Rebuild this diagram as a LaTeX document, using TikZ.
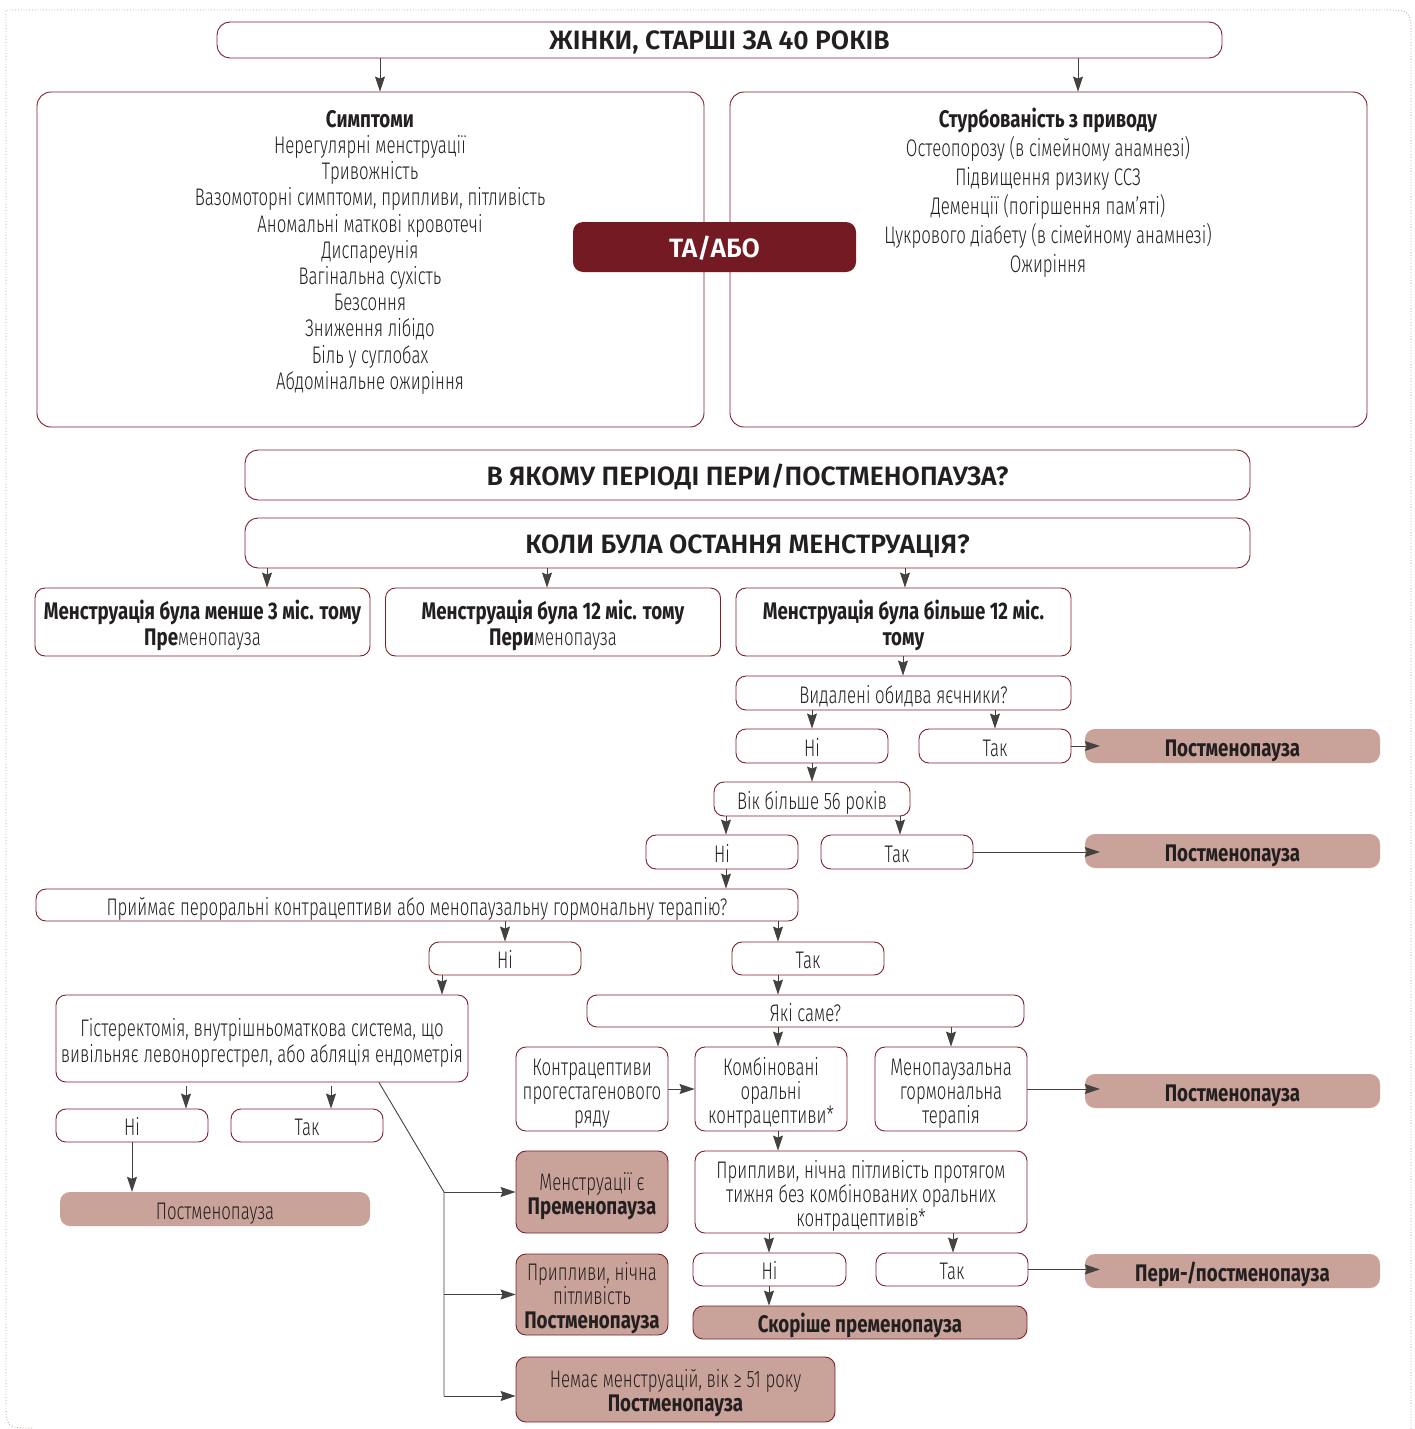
\documentclass[tikz,border=0pt]{standalone}
\usepackage{fontspec}
\setmainfont{Fira Sans Light}[FakeStretch=0.70,BoldFont={Fira Sans Bold},BoldFeatures={FakeStretch=0.78}]
\newfontfamily\headfont{Fira Sans SemiBold}[FakeStretch=1.0]
\usetikzlibrary{arrows.meta}
\definecolor{bordo}{HTML}{7D1F28}
\definecolor{rosy}{HTML}{C9A39A}
\definecolor{wine}{HTML}{731A22}
\definecolor{framec}{HTML}{CF9595}
\definecolor{ink}{HTML}{231F20}
\newcommand\topline{\rule{0pt}{26pt}}
\tikzset{
  box/.style={draw=bordo, line width=0.9pt, rounded corners=10pt, align=center, inner sep=0pt, text=ink, font=\fontsize{24}{24}\selectfont},
  oneline/.style={text height=20pt, text depth=0pt},
  bigbox/.style={box, rounded corners=14pt},
  headbox/.style={box, oneline, rounded corners=13pt, font=\headfont\fontsize{26.5}{30}\selectfont},
  boldbox/.style={box, font=\bfseries\fontsize{24}{26}\selectfont},
  result/.style={fill=rosy, oneline, rounded corners=10pt, align=center, inner sep=0pt, text=ink, font=\bfseries\fontsize{24}{26}\selectfont},
  resultbox/.style={box, fill=rosy},
  arr/.style={-{Stealth[length=15pt,width=10pt,inset=2pt]}, line width=0.9pt, draw=ink!85},
  into/.style={arr, shorten >=-15pt},
  link/.style={line width=0.9pt, draw=ink!85},
}
\begin{document}
\begin{tikzpicture}[x=1pt, y=-1pt]
\useasboundingbox (0,0) rectangle (1415,1429);
\draw[framec, dotted, line width=0.8pt] (1411,1429) -- (1411,38) .. controls (1411,10) .. (1383,10) -- (6,10) -- (6,1400) .. controls (6,1428) .. (34,1428);

% top part
\node (women) [headbox, minimum width=1005, minimum height=36] at (719.5,40) {ЖІНКИ, СТАРШІ ЗА 40 РОКІВ};
\node (symp) [bigbox, minimum width=667, minimum height=335] at (370.5,259.5) {};
\node (symptxt) [anchor=north, align=center, inner sep=0pt, text=ink, font=\fontsize{24}{26.2}\selectfont] at (370,110) {\textbf{Симптоми}\\
  Нерегулярні менструації\\
  Тривожність\\
  Вазомоторні симптоми, припливи, пітливість\\
  Аномальні маткові кровотечі\\
  Диспареунія\\
  Вагінальна сухість\\
  Безсоння\\
  Зниження лібідо\\
  Біль у суглобах\\
  Абдомінальне ожиріння};
\node (risk) [bigbox, minimum width=637, minimum height=335] at (1048.5,259.5) {};
\node (risktxt) [anchor=north, align=center, inner sep=0pt, text=ink, font=\fontsize{24}{29}\selectfont] at (1048,108) {\textbf{Стурбованість з приводу}\\
  Остеопорозу (в сімейному анамнезі)\\
  Підвищення ризику ССЗ\\
  Деменції (погіршення пам’яті)\\
  Цукрового діабету (в сімейному анамнезі)\\
  Ожиріння};
\node (andor) [fill=wine, oneline, rounded corners=10pt, minimum width=283, minimum height=50, text=white, font=\headfont\fontsize{26.5}{30}\selectfont] at (714.5,247) {ТА/АБО};
\draw[arr] (380,0 |- women.south) -- (380,0 |- symp.north);
\draw[arr] (1078,0 |- women.south) -- (1078,0 |- risk.north);

% periods
\node (period) [headbox, minimum width=1005, minimum height=50] at (747.5,475) {В ЯКОМУ ПЕРІОДІ ПЕРИ/ПОСТМЕНОПАУЗА?};
\node (last) [headbox, minimum width=1005, minimum height=50] at (747.5,543) {КОЛИ БУЛА ОСТАННЯ МЕНСТРУАЦІЯ?};
\node (less3) [boldbox, minimum width=335, minimum height=68] at (202.5,622) {\topline Менструація була менше 3 міс. тому\\\textbf{Пре}{\mdseries менопауза}};
\node (is12) [boldbox, minimum width=335, minimum height=68] at (553,622) {\topline Менструація була 12 міс. тому\\\textbf{Пери}{\mdseries менопауза}};
\node (over12) [boldbox, minimum width=335, minimum height=68] at (903.5,622) {\topline Менструація була більше 12 міс.\\тому};
\draw[arr] (267,0 |- last.south) -- (267,0 |- less3.north);
\draw[arr] (547,0 |- last.south) -- (547,0 |- is12.north);
\draw[arr] (905,0 |- last.south) -- (905,0 |- over12.north);

% ovaries and age
\node (ovar) [box, oneline, minimum width=335, minimum height=34] at (903.5,693) {Видалені обидва яєчники?};
\node (no1) [box, oneline, minimum width=152, minimum height=34] at (812,746) {Ні};
\node (yes1) [box, oneline, minimum width=152, minimum height=34] at (995,746) {Так};
\node (post1) [result, minimum width=295, minimum height=34] at (1232.5,746) {Постменопауза};
\node (age) [box, oneline, minimum width=196, minimum height=34] at (812,799) {Вік більше 56 років};
\node (no2) [box, oneline, minimum width=152, minimum height=34] at (722,852) {Ні};
\node (yes2) [box, oneline, minimum width=152, minimum height=34] at (897,852) {Так};
\node (post2) [result, minimum width=295, minimum height=34] at (1232.5,851) {Постменопауза};
\draw[arr] (903,0 |- over12.south) -- (903,0 |- ovar.north);
\draw[arr] (812,0 |- ovar.south) -- (812,0 |- no1.north);
\draw[arr] (995,0 |- ovar.south) -- (995,0 |- yes1.north);
\draw[into] (yes1) -- (post1);
\draw[arr] (812,0 |- no1.south) -- (812,0 |- age.north);
\draw[arr] (726,0 |- age.south) -- (726,0 |- no2.north);
\draw[arr] (900,0 |- age.south) -- (900,0 |- yes2.north);
\draw[into] (yes2.east) -- (post2.west |- yes2.east);

% contraceptives
\node (oc) [box, oneline, minimum width=762, minimum height=32] at (417,905) {Приймає пероральні контрацептиви або менопаузальну гормональну терапію?};
\node (no3) [box, oneline, minimum width=152, minimum height=33] at (505,958.5) {Ні};
\node (yes3) [box, oneline, minimum width=152, minimum height=33] at (808,958.5) {Так};
\draw[arr] (726,0 |- no2.south) -- (726,0 |- oc.north);
\draw[arr] (505,0 |- oc.south) -- (505,0 |- no3.north);
\draw[arr] (778,0 |- oc.south) -- (778,0 |- yes3.north);

% left branch
\node (hyst) [box, minimum width=412, minimum height=87, font=\fontsize{24}{26}\selectfont] at (262,1038.5) {\topline Гістеректомія, внутрішньоматкова система, що\\вивільняє левоноргестрел, або абляція ендометрія};
\node (no4) [box, oneline, minimum width=152, minimum height=33] at (132,1125.5) {Ні};
\node (yes4) [box, oneline, minimum width=152, minimum height=33] at (307,1125.5) {Так};
\node (post4) [result, font=\fontsize{24}{24}\selectfont, minimum width=310, minimum height=34] at (215,1209) {Постменопауза};
\node (pre) [resultbox, minimum width=152, minimum height=82] at (592,1192) {\topline Менструації є\\\textbf{Пременопауза}};
\node (hotpost) [resultbox, minimum width=152, minimum height=81] at (592,1294.5) {\topline Припливи, нічна\\пітливість\\\textbf{Постменопауза}};
\node (nomens) [resultbox, minimum width=319, minimum height=65] at (675.5,1389.5) {\topline Немає менструацій, вік ≥ 51 року\\\textbf{Постменопауза}};
\coordinate (split) at (444,1192);
\coordinate (splitend) at (444,1396);
\draw[arr] (442,0 |- no3.south) -- (442,0 |- hyst.north);
\draw[arr] ([yshift=-4]186,0 |- hyst.south) -- (186,0 |- no4.north);
\draw[arr] ([yshift=-4]331,0 |- hyst.south) -- (331,0 |- yes4.north);
\draw[arr] (132,0 |- no4.south) -- (132,0 |- post4.north);
\draw[link] (379,0 |- hyst.south) -- (split) -- (splitend);
\draw[arr] (split) -- (pre.west |- split);
\draw[arr] (split |- hotpost.west) -- (hotpost.west);
\draw[arr] (splitend) -- (nomens.west |- splitend);

% right branch
\node (which) [box, oneline, minimum width=437, minimum height=32] at (805.5,1011) {Які саме?};
\node (prog) [box, minimum width=152, minimum height=84] at (592,1089) {\topline Контрацептиви\\прогестагенового\\ряду};
\node (coc) [box, minimum width=152, minimum height=84] at (771,1089) {\topline Комбіновані\\оральні\\контрацептиви*};
\node (mht) [box, minimum width=152, minimum height=84] at (951,1089) {\topline Менопаузальна\\гормональна\\терапія};
\node (post3) [result, minimum width=295, minimum height=34] at (1232.5,1091) {Постменопауза};
\node (hot) [box, minimum width=332, minimum height=82] at (861,1192) {\topline Припливи, нічна пітливість протягом\\тижня без комбінованих оральних\\контрацептивів*};
\node (no5) [box, oneline, minimum width=153, minimum height=33] at (769.5,1269.5) {Ні};
\node (yes5) [box, oneline, minimum width=152, minimum height=33] at (952,1269.5) {Так};
\node (likely) [box, oneline, fill=rosy, font=\bfseries\fontsize{24}{26}\selectfont, minimum width=334, minimum height=33] at (860,1322.5) {Скоріше пременопауза};
\node (peri) [result, minimum width=295, minimum height=34] at (1232.5,1271) {Пери-/постменопауза};
\draw[arr] (778,0 |- yes3.south) -- (778,0 |- which.north);
\draw[arr] (778,0 |- which.south) -- (778,0 |- coc.north);
\draw[arr] (951,0 |- which.south) -- (951,0 |- mht.north);
\draw[arr] (prog) -- (coc);
\draw[into] (mht) -- (post3.west |- mht);
\draw[arr] (778,0 |- coc.south) -- (778,0 |- hot.north);
\draw[arr] (769,0 |- hot.south) -- (769,0 |- no5.north);
\draw[arr] (953,0 |- hot.south) -- (953,0 |- yes5.north);
\draw[arr] (769,0 |- no5.south) -- (769,0 |- likely.north);
\draw[into] (yes5) -- (peri.west |- yes5);
\end{tikzpicture}
\end{document}
